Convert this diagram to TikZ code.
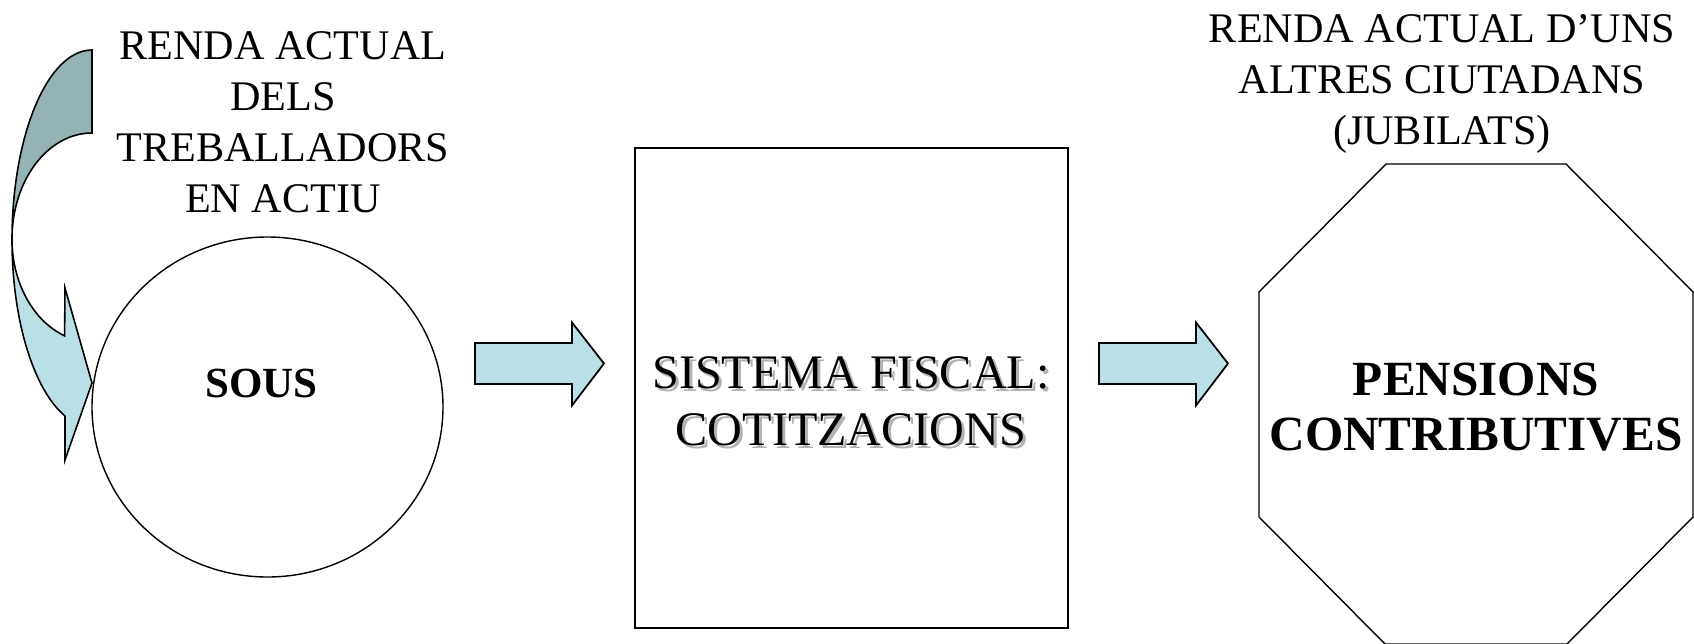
\documentclass[tikz,border=0pt]{standalone}
\usepackage{fontspec}
\setmainfont{Liberation Serif}
\usetikzlibrary{shapes.geometric}
\definecolor{arrowfill}{RGB}{185,224,228}
\definecolor{backfill}{RGB}{149,179,181}
\definecolor{shadowgray}{RGB}{178,178,178}
\begin{document}
\begin{tikzpicture}[
  lbl/.style={inner sep=0pt, align=center, font=\fontsize{12.0}{14.51}\selectfont},
  boldlbl/.style={inner sep=0pt, align=center, font=\bfseries\fontsize{14.0}{15.65}\selectfont},
  midlbl/.style={inner sep=0pt, align=center, font=\fontsize{13.7}{16.3}\selectfont},
  blockarrow/.style={draw=black, line width=0.5pt, fill=arrowfill, line join=miter},
  curvearrow/.style={draw=black, line width=0.45pt, line join=miter},
  shapeline/.style={draw=black, line width=0.4pt},
  pics/blockarr/.style={code={
    \draw[blockarrow] (0,0.205) -- (0.97,0.205) -- (0.97,0.41) -- (1.29,0)
      -- (0.97,-0.42) -- (0.97,-0.205) -- (0,-0.205) -- cycle;}}
]
\useasboundingbox (0,0) rectangle (16.94,6.43);
\clip (0,0) rectangle (16.94,6.43);

% curved arrow (back part and front part)
\path[curvearrow, fill=backfill] (0.92,5.93)
  arc[start angle=90, end angle=180, x radius=0.80cm, y radius=1.90cm]
  -- (0.12,4.04)
  arc[start angle=180, end angle=90, x radius=0.80cm, y radius=1.06cm]
  -- cycle;
\path[curvearrow, fill=arrowfill] (0.12,4.03)
  arc[start angle=180, end angle=250.3, x radius=0.80cm, y radius=1.87cm]
  -- (0.65,1.83) -- (0.92,2.60) -- (0.65,3.55) -- (0.646,3.072)
  arc[start angle=250, end angle=180, x radius=0.80cm, y radius=1.03cm]
  -- cycle;

% circle SOUS
\node[shapeline, ellipse, minimum width=3.51cm, minimum height=3.40cm, inner sep=0pt] (circ) at (2.675,2.36) {};
\node[inner sep=0pt, font=\bfseries\fontsize{12.23}{14}\selectfont, anchor=base] (sous) at (2.615,2.46) {SOUS};

% top-left label
\node[lbl, anchor=north] (renda1) at (2.83,6.125) {RENDA ACTUAL\\DELS\\TREBALLADORS\\EN ACTIU};

% block arrows
\coordinate (a1) at (4.75,2.795);
\coordinate (a2) at (10.99,2.795);
\pic at (a1) {blockarr};
\pic at (a2) {blockarr};

% rectangle
\node[draw=black, line width=0.6pt, minimum width=4.33cm, minimum height=4.80cm, inner sep=0pt] (fisc) at (8.515,2.55) {};
\node[midlbl, anchor=north, text=shadowgray] (fiscshadow) at (8.54,2.84) {SISTEMA FISCAL:\\COTITZACIONS};
\node[midlbl, anchor=north] (fisctxt) at (8.51,2.87) {SISTEMA FISCAL:\\COTITZACIONS};

% octagon
\draw[shapeline] (13.86,4.79) -- (15.66,4.79) -- (16.93,3.51) -- (16.93,1.26)
  -- (15.67,-0.01) -- (13.85,-0.01) -- (12.59,1.26) -- (12.59,3.51) -- cycle;
\node[boldlbl, anchor=north] (pens) at (14.76,2.81) {PENSIONS\\CONTRIBUTIVES};

% top-right label
\node[lbl, anchor=north] (renda2) at (14.42,6.29) {RENDA ACTUAL D’UNS\\ALTRES CIUTADANS\\(JUBILATS)};
\end{tikzpicture}
\end{document}
